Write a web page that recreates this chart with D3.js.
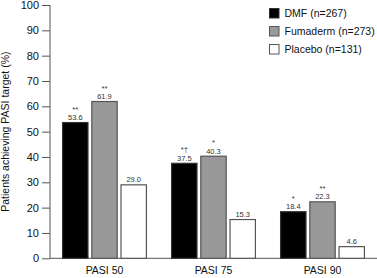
<!DOCTYPE html>
<html>
<head>
<meta charset="utf-8">
<script src="https://cdn.jsdelivr.net/npm/d3@7"></script>
<style>
  body { margin: 0; background: #fff; }
  svg { display: block; font-family: Arial, "Liberation Sans", sans-serif; }
</style>
</head>
<body>
<div class="chart"></div>
<script>
// chart values
const categories = ['PASI 50', 'PASI 75', 'PASI 90']
const seriesNames = ['DMF (n=267)', 'Fumaderm (n=273)', 'Placebo (n=131)']
const dmf = [53.6, 37.5, 18.4]
const fumaderm = [61.9, 40.3, 22.3]
const placebo = [29.0, 15.3, 4.6]
const dmfSig = ['**', '*\u2020', '*']
const fumadermSig = ['**', '*', '**']
const placeboSig = ['', '', '']
const yTicks = [0, 10, 20, 30, 40, 50, 60, 70, 80, 90, 100]

const fills = ['#000000', '#999999', '#ffffff']
const strokes = ['#333333', '#555555', '#555555']

const W = 377, H = 278
const margin = { top: 5, right: 0, bottom: 20, left: 50 }
const width = W - margin.left - margin.right
const height = 258.3 - margin.top

const seriesValues = [dmf, fumaderm, placebo]
const seriesSig = [dmfSig, fumadermSig, placeboSig]
const rows = categories.map((c, i) => ({
  cat: c,
  bars: seriesNames.map((s, j) => ({ key: s, j, value: seriesValues[j][i], sig: seriesSig[j][i] }))
}))

const svg = d3.select('.chart')
  .append('svg')
    .attr('width', W)
    .attr('height', H)
  .append('g')
    .attr('transform', `translate(${margin.left}, ${margin.top})`)

const yScale = d3.scaleLinear()
  .domain([0, 100])
  .range([height, 0])

const x0 = d3.scaleBand()
  .domain(categories)
  .range([0, width])
  .paddingInner(0.22)
  .paddingOuter(0.11)

const x1 = d3.scaleBand()
  .domain(seriesNames)
  .range([0, x0.bandwidth()])
  .paddingInner(0.09)

// y axis
const yAxis = d3.axisLeft(yScale).tickValues(yTicks).tickSize(8).tickPadding(3)
const gy = svg.append('g').call(yAxis)
gy.select('.domain').attr('d', `M0,${height}V0`).attr('stroke', '#555')
gy.selectAll('.tick line').attr('stroke', '#555')
gy.selectAll('.tick text')
  .attr('fill', '#111')
  .style('font-size', '11px')

// baseline runs to the right edge
svg.append('line')
  .attr('x1', 0).attr('x2', width)
  .attr('y1', height).attr('y2', height)
  .attr('stroke', '#555')

// category labels
svg.selectAll('.cat')
  .data(categories)
  .join('text')
    .attr('class', 'cat')
    .attr('x', d => x0(d) + x0.bandwidth() / 2)
    .attr('y', height + 16)
    .attr('text-anchor', 'middle')
    .style('font-size', '10.5px')
    .attr('fill', '#111')
    .text(d => d)

// y title
svg.append('text')
  .attr('transform', `translate(${-41}, ${height / 2}) rotate(-90)`)
  .attr('text-anchor', 'middle')
  .style('font-size', '10.5px')
  .attr('fill', '#111')
  .text('Patients achieving PASI target (%)')

const groups = svg.selectAll('.grp')
  .data(rows)
  .join('g')
    .attr('class', 'grp')
    .attr('transform', d => `translate(${x0(d.cat)}, 0)`)

groups.selectAll('rect')
  .data(d => d.bars)
  .join('rect')
    .attr('x', d => x1(d.key) + 0.6)
    .attr('y', d => yScale(d.value))
    .attr('width', x1.bandwidth() - 1.2)
    .attr('height', d => height - yScale(d.value))
    .attr('fill', d => fills[d.j])
    .attr('stroke', d => strokes[d.j])
    .attr('stroke-width', 1.2)

groups.selectAll('.val')
  .data(d => d.bars)
  .join('text')
    .attr('class', 'val')
    .attr('x', d => x1(d.key) + x1.bandwidth() / 2)
    .attr('y', d => yScale(d.value) - 2.5)
    .attr('text-anchor', 'middle')
    .style('font-size', '7.5px')
    .attr('fill', '#333')
    .text(d => d.value.toFixed(1))

groups.selectAll('.sig')
  .data(d => d.bars.filter(b => b.sig))
  .join('text')
    .attr('class', 'sig')
    .attr('x', d => x1(d.key) + x1.bandwidth() / 2)
    .attr('y', d => yScale(d.value) - 11)
    .attr('text-anchor', 'middle')
    .style('font-size', '7.5px')
    .attr('fill', '#333')
    .text(d => d.sig)

// legend
const legend = svg.append('g')
  .attr('transform', `translate(${269.5 - margin.left}, ${8.5 - margin.top})`)
const li = legend.selectAll('g')
  .data(seriesNames)
  .join('g')
    .attr('transform', (d, i) => `translate(0, ${i * 18})`)
li.append('rect')
  .attr('width', 9.5).attr('height', 9.5)
  .attr('fill', (d, i) => fills[i])
  .attr('stroke', (d, i) => strokes[i])
li.append('text')
  .attr('x', 15)
  .attr('y', 8.8)
  .style('font-size', '10.5px')
  .attr('fill', '#111')
  .text(d => d)
</script>
</body>
</html>
